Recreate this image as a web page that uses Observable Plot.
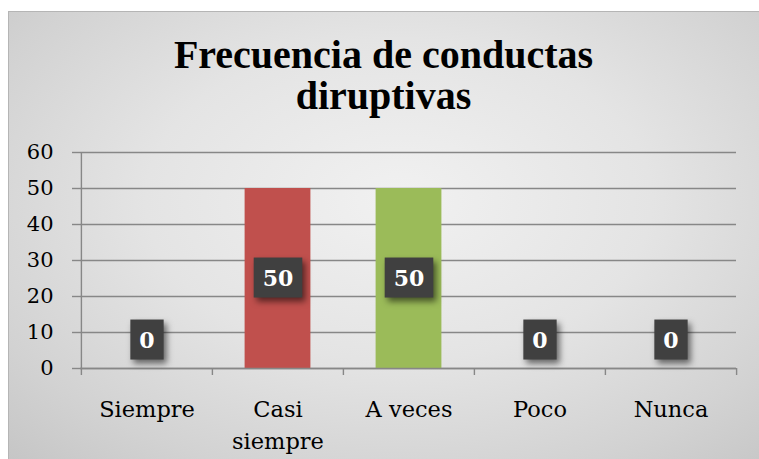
<!DOCTYPE html>
<html><head><meta charset="utf-8">
<script src="https://cdn.jsdelivr.net/npm/d3@7"></script>
<script src="https://cdn.jsdelivr.net/npm/@observablehq/plot@0.6"></script>
<style>
html,body{margin:0;padding:0;background:#fff;}
#wrap{position:relative;width:759px;height:459px;overflow:hidden;}
#frame{position:absolute;left:8px;top:11px;width:751px;height:448px;
  background:radial-gradient(ellipse 75% 80% at 52% 42%, #f1f1f1 0%, #e4e4e4 45%, #d2d2d2 80%, #c6c6c6 100%);
  border-top:1px solid #b5b5b5;border-left:1px solid #b5b5b5;box-sizing:border-box;}
#title{position:absolute;left:8px;width:751px;top:34px;text-align:center;
  font-family:"Liberation Serif",serif;font-weight:bold;font-size:40px;line-height:41px;color:#000;}
#chart{position:absolute;left:0;top:0;}
</style>
</head><body>
<div id="wrap">
  <div id="frame"></div>
  <div id="title">Frecuencia de conductas<br>diruptivas</div>
  <div id="chart"></div>
</div>
<script>
const categories = ["Siempre", "Casi siempre", "A veces", "Poco", "Nunca"];
const values = [0, 50, 50, 0, 0];
const barColors = ["#4F81BD", "#C0504D", "#9BBB59", "#8064A2", "#4BACC6"];
const yTicks = [0, 10, 20, 30, 40, 50, 60];
const tickLabels = {"Casi siempre": "Casi\nsiempre"};

const data = categories.map((c, i) => ({cat: c, value: values[i], color: barColors[i]}));

const W = 759, H = 459, ml = 80, mr = 23, mt = 152, mb = 91;
const bw = (W - ml - mr) / categories.length;
const plotH = H - mt - mb;
const font = '"DejaVu Serif", serif';
const gridColor = "#878787";

const plot = Plot.plot({
  width: W, height: H,
  marginLeft: ml, marginRight: mr, marginTop: mt, marginBottom: mb,
  style: {background: "transparent", fontFamily: font, color: "#000", overflow: "visible"},
  x: {domain: categories, padding: 0, label: null},
  y: {domain: [0, 60], label: null},
  marks: [
    Plot.gridY(yTicks, {stroke: gridColor, strokeOpacity: 1, strokeWidth: 1.4}),
    Plot.axisY({ticks: yTicks, tickSize: 8, tickPadding: 19, fontSize: 21, stroke: gridColor, strokeWidth: 1.4, strokeOpacity: 1, fill: "#000", label: null}),
    Plot.barY(data, {x: "cat", y: "value", fill: "color", insetLeft: 32.6, insetRight: 32.6}),
    Plot.ruleY([0], {stroke: gridColor, strokeWidth: 1.4}),
    // y axis line (left boundary) extended below zero
    Plot.ruleX(data.slice(0, 1), {x: "cat", dx: -bw / 2, stroke: gridColor, strokeWidth: 1.4, insetBottom: -7}),
    // category boundary ticks
    Plot.ruleX(data.slice(1), {x: "cat", dx: -bw / 2, stroke: gridColor, strokeWidth: 1.4, insetTop: plotH, insetBottom: -7}),
    Plot.ruleX(data.slice(-1), {x: "cat", dx: bw / 2, stroke: gridColor, strokeWidth: 1.4, insetTop: plotH, insetBottom: -7}),
    Plot.axisX({tickSize: 0, tickPadding: 26, fontSize: 22.5, lineHeight: 1.42, fill: "#000",
      tickFormat: d => tickLabels[d] || d, label: null}),
    Plot.text(data.filter(d => d.value > 0), {x: "cat", y: d => d.value / 2, text: d => String(d.value),
      fill: "white", fontWeight: "bold", fontSize: 22, className: "lbl"}),
    Plot.text(data.filter(d => d.value === 0), {x: "cat", y: "value", dy: -28, text: d => String(d.value),
      fill: "white", fontWeight: "bold", fontSize: 22, className: "lbl"})
  ]
});
document.getElementById("chart").appendChild(plot);

// dark label boxes behind data labels
const ns = "http://www.w3.org/2000/svg";
plot.querySelectorAll("g.lbl text").forEach(t => {
  const b = t.getBBox();
  const r = document.createElementNS(ns, "rect");
  const w = b.width + 18, h = 40;
  const cy = b.y + b.height / 2;
  r.setAttribute("x", b.x + b.width / 2 - w / 2);
  r.setAttribute("y", cy - h / 2);
  r.setAttribute("width", w);
  r.setAttribute("height", h);
  r.setAttribute("fill", "#404040");
  if (t.getAttribute("transform")) r.setAttribute("transform", t.getAttribute("transform"));
  r.style.filter = "drop-shadow(3px 4px 3px rgba(0,0,0,0.55))";
  t.parentNode.insertBefore(r, t);
});
</script>
</body></html>
